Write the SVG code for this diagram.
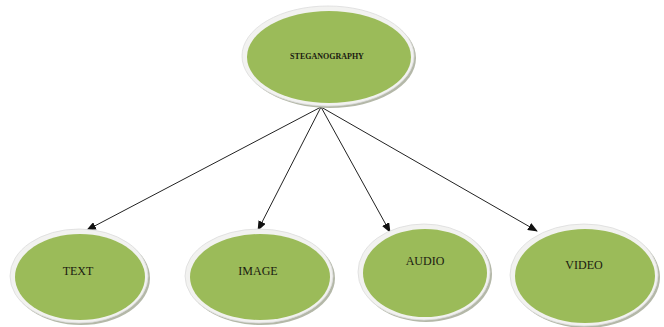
<svg xmlns="http://www.w3.org/2000/svg" width="664" height="327" viewBox="0 0 664 327">
<style>
.sh{fill:#b4b8a8;}
.rim{fill:#f2f2f0;stroke:#dcdcdc;stroke-width:0.8;}
.body{fill:#9bbb59;}
.lbl{font-family:"Liberation Serif","Times New Roman",serif;font-size:12px;fill:#1a1a10;text-anchor:middle;dominant-baseline:middle;}
.title{font-family:"Liberation Serif","Times New Roman",serif;font-size:8px;font-weight:bold;fill:#1a1a10;text-anchor:middle;dominant-baseline:middle;}
.conn{stroke:#222;stroke-width:1;fill:none;marker-end:url(#ah);}
</style>
<defs>
<marker id="ah" markerWidth="10" markerHeight="8" refX="9" refY="4" orient="auto" markerUnits="userSpaceOnUse">
<path d="M0,0 L10,4 L0,8 Z" fill="#111"/>
</marker>
</defs>
<rect width="664" height="327" fill="#fff"/>
<g id="connectors">
<line class="conn" x1="321" y1="107" x2="87" y2="230"/>
<line class="conn" x1="321" y1="107" x2="258" y2="230"/>
<line class="conn" x1="321" y1="107" x2="390" y2="232"/>
<line class="conn" x1="321" y1="107" x2="537" y2="231"/>
</g>
<g id="steganography">
<ellipse class="sh" cx="330" cy="58" rx="86" ry="50"/>
<ellipse class="rim" cx="328" cy="56" rx="86" ry="50"/>
<ellipse class="body" cx="329" cy="57" rx="82" ry="46"/>
<text class="title" x="327" y="57">STEGANOGRAPHY</text>
</g>
<g id="text">
<ellipse class="sh" cx="81" cy="278" rx="69" ry="47"/>
<ellipse class="rim" cx="79" cy="276" rx="69" ry="47"/>
<ellipse class="body" cx="80" cy="277" rx="65" ry="43"/>
<text class="lbl" x="78" y="272">TEXT</text>
</g>
<g id="image">
<ellipse class="sh" cx="261" cy="278" rx="74" ry="47"/>
<ellipse class="rim" cx="259" cy="276" rx="74" ry="47"/>
<ellipse class="body" cx="260" cy="277" rx="70" ry="43"/>
<text class="lbl" x="258" y="272">IMAGE</text>
</g>
<g id="audio">
<ellipse class="sh" cx="426" cy="274" rx="66" ry="48"/>
<ellipse class="rim" cx="424" cy="272" rx="66" ry="48"/>
<ellipse class="body" cx="425" cy="273" rx="62" ry="44"/>
<text class="lbl" x="425" y="262">AUDIO</text>
</g>
<g id="video">
<ellipse class="sh" cx="586" cy="277" rx="74" ry="51"/>
<ellipse class="rim" cx="584" cy="275" rx="74" ry="51"/>
<ellipse class="body" cx="585" cy="276" rx="70" ry="47"/>
<text class="lbl" x="584" y="266">VIDEO</text>
</g>
</svg>
